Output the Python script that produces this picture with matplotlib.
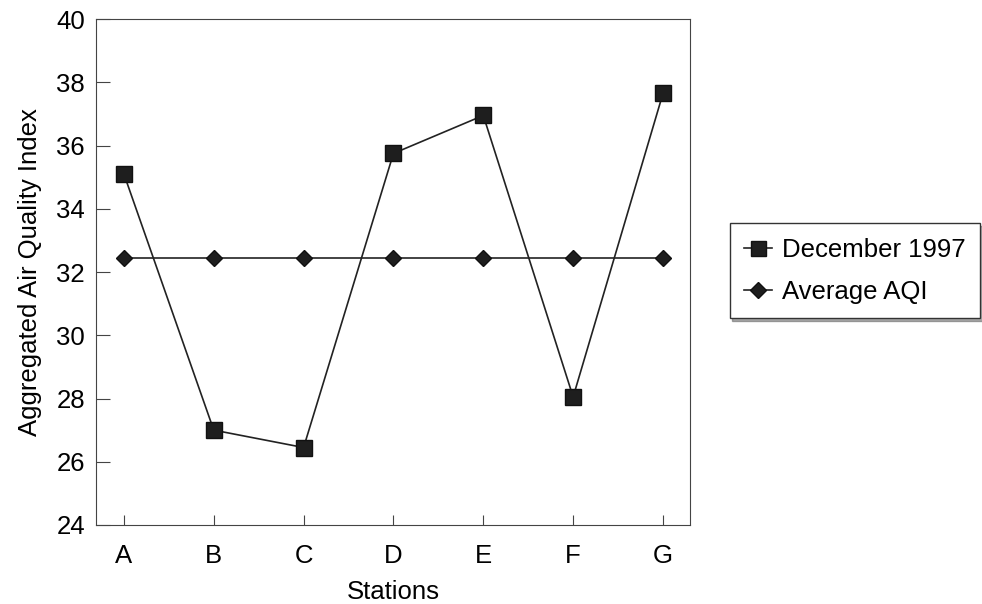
import matplotlib.pyplot as plt

plt.rcParams['font.family'] = ['Liberation Sans', 'DejaVu Sans']

stations = ['A', 'B', 'C', 'D', 'E', 'F', 'G']
december_1997 = [35.1, 27.0, 26.45, 35.75, 36.95, 28.05, 37.65]
average_aqi = [32.43] * 7

fig = plt.figure(figsize=(9.82, 6.04), dpi=100)
ax = fig.add_axes([0.0978, 0.1308, 0.6048, 0.8377])

x = range(len(stations))
ax.plot(x, december_1997, color='#222222', lw=1.2, marker='s', markersize=12,
        markerfacecolor='#1e1e1e', markeredgecolor='#111111', label='December 1997')
ax.plot(x, average_aqi, color='#222222', lw=1.2, marker='D', markersize=8.5,
        markerfacecolor='#1e1e1e', markeredgecolor='#111111', label='Average AQI')

ax.set_xlim(-0.31, 6.3)
ax.set_ylim(24, 40)
ax.set_yticks(range(24, 41, 2))
ax.set_xticks(list(x))
ax.set_xticklabels(stations)
ax.tick_params(direction='in', labelsize=18.5, color='#444444')
ax.tick_params(axis='x', length=7, pad=14)
ax.tick_params(axis='y', length=10, pad=8)
for s in ax.spines.values():
    s.set_color('#444444')

ax.set_xlabel('Stations', fontsize=18.5, labelpad=8)
ax.set_ylabel('Aggregated Air Quality Index', fontsize=18.5, labelpad=10)

leg = fig.legend(loc='upper left', bbox_to_anchor=(0.743, 0.63), fontsize=18.5,
                 frameon=True, fancybox=False,
                 shadow={'ox': 2, 'oy': -2, 'color': '#555555'},
                 handlelength=1.1, handletextpad=0.4, borderpad=0.55,
                 labelspacing=0.7, borderaxespad=0, markerscale=0.9)
leg.get_frame().set_edgecolor('#333333')
leg.get_frame().set_linewidth(1.0)

fig.savefig('out.png', dpi=100)
